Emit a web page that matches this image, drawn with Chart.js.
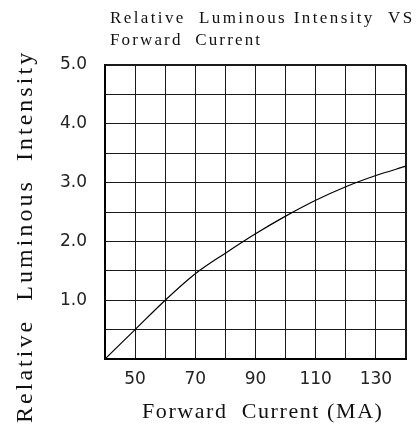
<!DOCTYPE html>
<html>
<head>
<meta charset="utf-8">
<script src="https://cdn.jsdelivr.net/npm/chart.js@4.4.1/dist/chart.umd.min.js"></script>
<style>
  body { margin: 0; background: #fff; }
  canvas { display: block; }
</style>
</head>
<body>
<canvas id="ivChart" width="416" height="425"></canvas>
<script>
// Data
var currents = [40, 50, 60, 70, 80, 90, 100, 110, 120, 130, 140];
var intensity = [0, 0.5, 1.0, 1.45, 1.8, 2.13, 2.43, 2.7, 2.93, 3.12, 3.28];
var xTickLabels = [50, 70, 90, 110, 130];
var yTickLabels = [1, 2, 3, 4, 5];

var titleLines = ["Relative  Luminous Intensity  VS", "Forward  Current"];
var xTitle = "Forward  Current (MA)";
var yTitle = "Relative  Luminous  Intensity";

var serifFont = '"Liberation Serif", "DejaVu Serif", serif';

// draw text stretched with letter spacing so it takes a given width (monospace look)
function fitText(c, text, x, y, width) {
  c.letterSpacing = "0px";
  var w = c.measureText(text).width;
  var gap = (width - w) / (text.length - 1);
  c.letterSpacing = gap.toFixed(2) + "px";
  c.fillText(text, x, y);
  c.letterSpacing = "0px";
}

// Titles drawn as text on the canvas
var chartTexts = {
  id: "chartTexts",
  afterDraw: function (chart) {
    var c = chart.ctx;
    c.save();
    c.fillStyle = "#111";
    c.textBaseline = "alphabetic";
    c.textAlign = "left";
    c.font = "17px " + serifFont;
    fitText(c, titleLines[0], 110, 23, 302);
    fitText(c, titleLines[1], 110, 45, 150);

    c.font = "22px " + serifFont;
    fitText(c, xTitle, 142, 418, 240);

    c.translate(32, 423);
    c.rotate(-Math.PI / 2);
    c.font = "24px " + serifFont;
    fitText(c, yTitle, 0, 0, 370);
    c.restore();
  },
};

function edgeWidth(ctx) {
  var n = ctx.chart.scales[ctx.scale.id].ticks.length;
  return ctx.index === 0 || ctx.index === n - 1 ? 2 : 1;
}

var ctx = document.getElementById("ivChart").getContext("2d");
var ivChart = new Chart(ctx, {
  type: "line",
  data: {
    datasets: [
      {
        data: currents.map(function (x, i) {
          return { x: x, y: intensity[i] };
        }),
        borderColor: "#000",
        borderWidth: 1.2,
        pointRadius: 0,
        cubicInterpolationMode: "monotone",
        fill: false,
      },
    ],
  },
  options: {
    responsive: false,
    animation: false,
    devicePixelRatio: 1,
    layout: { padding: { left: 0, right: 7, top: 65, bottom: 0 } },
    plugins: {
      legend: { display: false },
      tooltip: { enabled: false },
    },
    scales: {
      x: {
        type: "linear",
        min: 40,
        max: 140,
        afterFit: function (scale) {
          scale.height = 66;
        },
        ticks: {
          stepSize: 10,
          padding: 10,
          maxRotation: 0,
          autoSkip: false,
          color: "#222",
          font: { family: '"DejaVu Sans", sans-serif', size: 17 },
          callback: function (v) {
            return xTickLabels.indexOf(v) >= 0 ? String(v) : "";
          },
        },
        grid: { color: "#1a1a1a", lineWidth: edgeWidth, drawTicks: false },
        border: { color: "#000", width: 2 },
      },
      y: {
        min: 0,
        max: 5,
        afterFit: function (scale) {
          scale.width = 105;
        },
        ticks: {
          stepSize: 0.5,
          padding: 18,
          autoSkip: false,
          color: "#222",
          font: { family: '"DejaVu Sans", sans-serif', size: 17 },
          callback: function (v) {
            return yTickLabels.indexOf(v) >= 0 ? v.toFixed(1) : "";
          },
        },
        grid: { color: "#1a1a1a", lineWidth: edgeWidth, drawTicks: false },
        border: { color: "#000", width: 2 },
      },
    },
  },
  plugins: [chartTexts],
});
</script>
</body>
</html>
